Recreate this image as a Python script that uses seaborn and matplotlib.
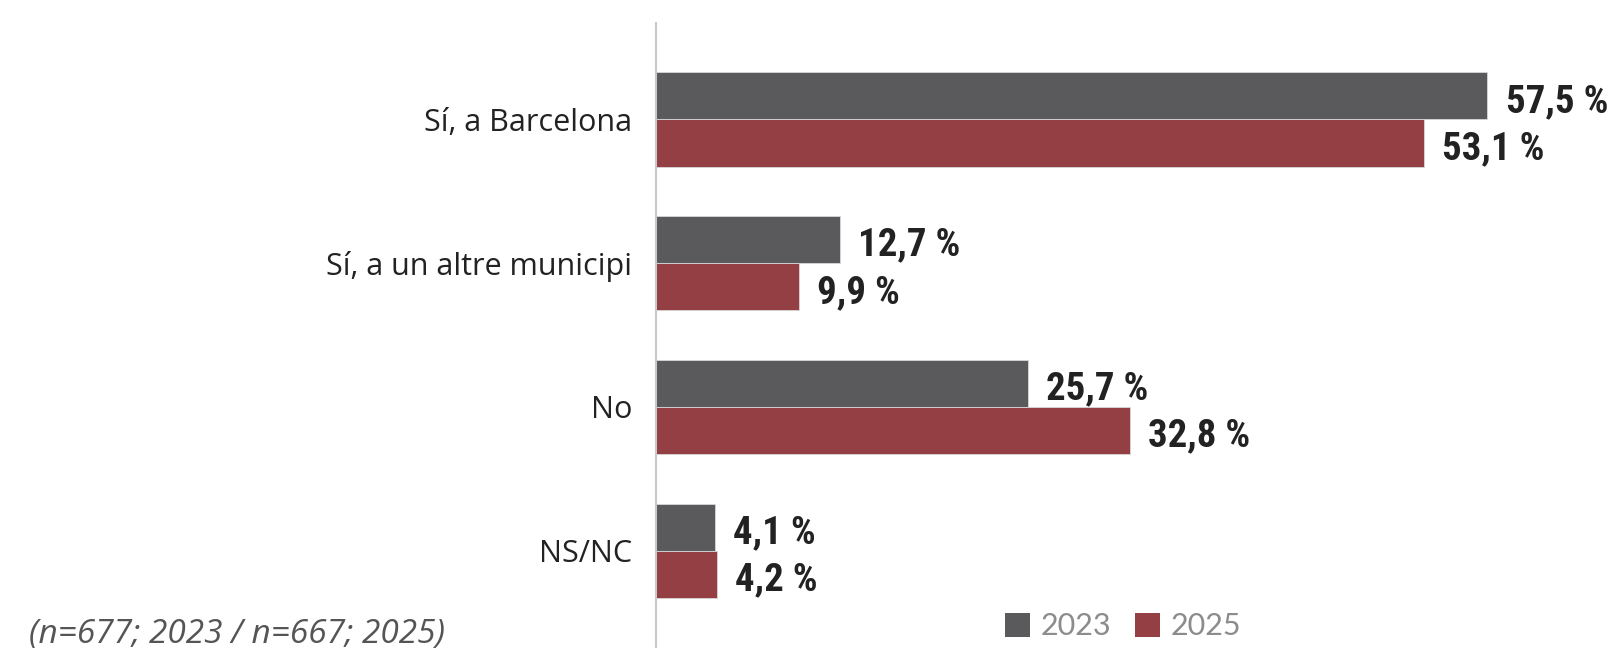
import matplotlib
matplotlib.use("Agg")
from matplotlib import pyplot as plt
from matplotlib import font_manager
from matplotlib.patches import Patch
import pandas as pd
import seaborn as sns

categories = ["Sí, a Barcelona", "Sí, a un altre municipi", "No", "NS/NC"]
years = ["2023", "2025"]
values_2023 = [57.5, 12.7, 25.7, 4.1]
values_2025 = [53.1, 9.9, 32.8, 4.2]
note = "(n=677; 2023 / n=667; 2025)"

colors = {"2023": "#5a5a5c", "2025": "#943f43"}

installed = {f.name for f in font_manager.fontManager.ttflist}


def pick(*names):
    for n in names:
        if n in installed:
            return n
    return "DejaVu Sans"


label_font = pick("Open Sans", "Noto Sans")
value_font = pick("Liberation Sans Narrow", "Roboto Condensed", "Roboto")
legend_font = pick("Lato", "Open Sans")

df = pd.DataFrame(
    {
        "cat": categories * 2,
        "year": [years[0]] * 4 + [years[1]] * 4,
        "value": values_2023 + values_2025,
    }
)

sns.set_style("white")
plt.rcParams["font.family"] = [label_font, "DejaVu Sans"]

fig = plt.figure(figsize=(16.14, 6.48), dpi=100)
ax = fig.add_axes([656 / 1614, 0, 1 - 656 / 1614, 625 / 648])

sns.barplot(
    data=df,
    y="cat",
    x="value",
    hue="year",
    orient="h",
    palette=colors,
    saturation=1,
    width=0.657,
    edgecolor="#d8d8d8",
    linewidth=0.6,
    legend=False,
    ax=ax,
)

ax.set_xlim(0, 66.25)
ax.set_ylim(3.676, -0.67)
ax.set_xlabel("")
ax.set_ylabel("")
ax.set_xticks([])
sns.despine(ax=ax, top=True, right=True, bottom=True, left=False)
ax.spines["left"].set_color("#c8c8c8")
ax.spines["left"].set_linewidth(1.5)
ax.tick_params(axis="y", length=0, pad=17, labelsize=22, labelcolor="#222222")

for container, yr in zip(ax.containers, years):
    labels = [f"{v:.1f} %".replace(".", ",") for v in container.datavalues]
    anns = ax.bar_label(
        container,
        labels=labels,
        padding=13,
        fontsize=28,
        fontweight="bold",
        color="#222222",
        family=[value_font, "DejaVu Sans"],
    )
    # nudge the labels a little below the bar centre, as in the original
    for a in anns:
        a.xyann = (a.xyann[0], -4)

fig.text(
    29 / 1614, 5 / 648, note,
    fontsize=24, style="italic", color="#555555",
    ha="left", va="baseline",
)

handles = [Patch(facecolor=colors[y], edgecolor="none", label=y) for y in years]
fig.legend(
    handles=handles,
    loc="lower left",
    bbox_to_anchor=(990 / 1614, -0.012),
    ncol=2,
    frameon=False,
    handlelength=0.8,
    handleheight=0.8,
    handletextpad=0.35,
    columnspacing=0.8,
    borderpad=0,
    prop={"family": legend_font, "size": 22},
    labelcolor="#8c8c8c",
)

fig.savefig("out.png", dpi=100)
